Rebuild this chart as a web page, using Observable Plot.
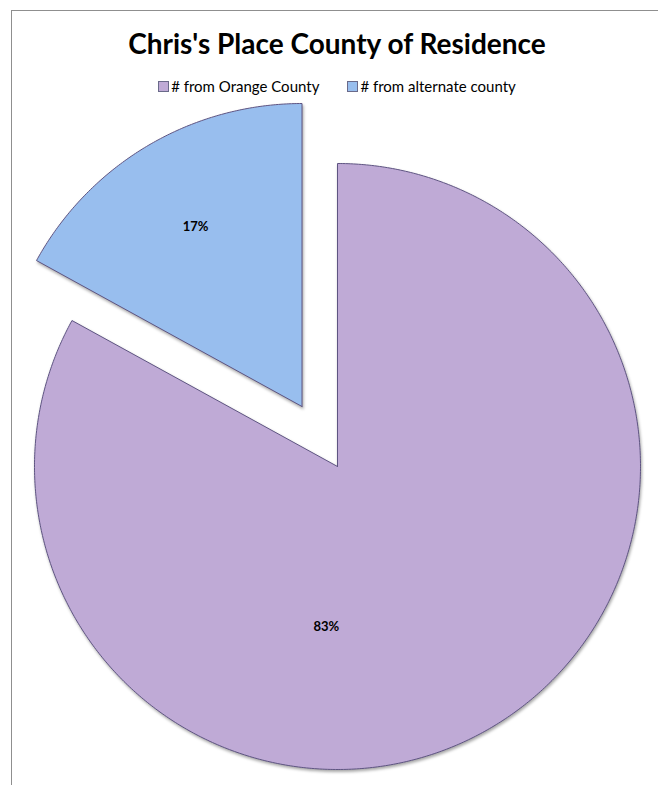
<!DOCTYPE html>
<html>
<head>
<meta charset="utf-8">
<script src="https://cdn.jsdelivr.net/npm/d3@7"></script>
<script src="https://cdn.jsdelivr.net/npm/@observablehq/plot@0.6"></script>
<style>
  html, body { margin: 0; padding: 0; background: #fff; width: 658px; height: 785px; overflow: hidden; font-family: Lato, "Open Sans", sans-serif; }
  #frame { position: absolute; left: 11px; top: 10px; width: 720px; height: 820px; border-left: 1.5px solid #8f8f8f; border-top: 1.5px solid #8f8f8f; box-sizing: border-box; }
  #title { position: absolute; left: 11px; width: 652px; top: 26px; text-align: center; font-weight: bold; font-size: 28px; color: #000; line-height: 34px; }
  #legend { position: absolute; left: 11px; width: 652px; top: 78px; display: flex; justify-content: center; gap: 28px; font-size: 15px; color: #000; line-height: 17px; }
  .item { display: flex; align-items: center; }
  .sw { width: 11px; height: 11px; border: 1px solid #6a6a8a; margin-right: 2px; box-sizing: border-box; }
  #chart { position: absolute; left: 0; top: 100px; }
  #chart svg path { filter: drop-shadow(1px 2px 1.5px rgba(0,0,0,0.35)); }
</style>
</head>
<body>
<div id="frame"></div>
<div id="title"></div>
<div id="legend"></div>
<div id="chart"></div>
<script>
// ---- data ----
const titleText = "Chris's Place County of Residence";
const categories = ["# from Orange County", "# from alternate county"];
const values = [83, 17];
const labels = ["83%", "17%"];
const colors = ["#BFAAD6", "#98BEEE"];

// ---- header ----
document.getElementById("title").textContent = titleText;
const legend = document.getElementById("legend");
categories.forEach((c, i) => {
  const it = document.createElement("div");
  it.className = "item";
  const sw = document.createElement("div");
  sw.className = "sw";
  sw.style.background = colors[i];
  const t = document.createElement("span");
  t.textContent = c;
  it.appendChild(sw); it.appendChild(t);
  legend.appendChild(it);
});

// ---- pie geometry via d3.pie ----
const arcs = d3.pie().sort(null).startAngle(0).endAngle(2 * Math.PI)(values);
const explode = [0, 0.23];   // fraction of radius each slice is pulled out
const step = Math.PI / 360;
const slices = arcs.map((a, i) => {
  const mid = (a.startAngle + a.endAngle) / 2;
  const ox = explode[i] * Math.sin(mid), oy = explode[i] * Math.cos(mid);
  const pts = [{x: ox, y: oy}];
  const n = Math.ceil((a.endAngle - a.startAngle) / step);
  for (let k = 0; k <= n; k++) {
    const t = a.startAngle + (a.endAngle - a.startAngle) * k / n;
    pts.push({x: ox + Math.sin(t), y: oy + Math.cos(t)});
  }
  pts.push({x: ox, y: oy});
  return {pts, mid, ox, oy, i};
});

// label placement (polar, relative to each slice's center)
const labelPolar = [
  {angle: 184 * Math.PI / 180, r: 0.53},
  {angle: null, r: 0.69}
];
const labelData = slices.map(s => {
  const lp = labelPolar[s.i];
  const ang = lp.angle == null ? s.mid : lp.angle;
  return {x: s.ox + lp.r * Math.sin(ang), y: s.oy + lp.r * Math.cos(ang), text: labels[s.i]};
});

const R = 303;
const plot = Plot.plot({
  width: 658,
  height: 685,
  marginLeft: 34,
  marginRight: 658 - 34 - 2 * R,
  marginTop: 63,
  marginBottom: 685 - 63 - 2 * R,
  x: {domain: [-1, 1], axis: null},
  y: {domain: [-1, 1], axis: null},
  style: {overflow: "visible", fontFamily: "Lato, 'Open Sans', sans-serif"},
  marks: [
    ...slices.map(s => Plot.line(s.pts, {x: "x", y: "y", fill: colors[s.i], stroke: "#5e5482", strokeWidth: 1, curve: "linear"})),
    Plot.text(labelData, {x: "x", y: "y", text: "text", fontWeight: "bold", fontSize: 13, fill: "#000"})
  ]
});
document.getElementById("chart").appendChild(plot);
</script>
</body>
</html>
